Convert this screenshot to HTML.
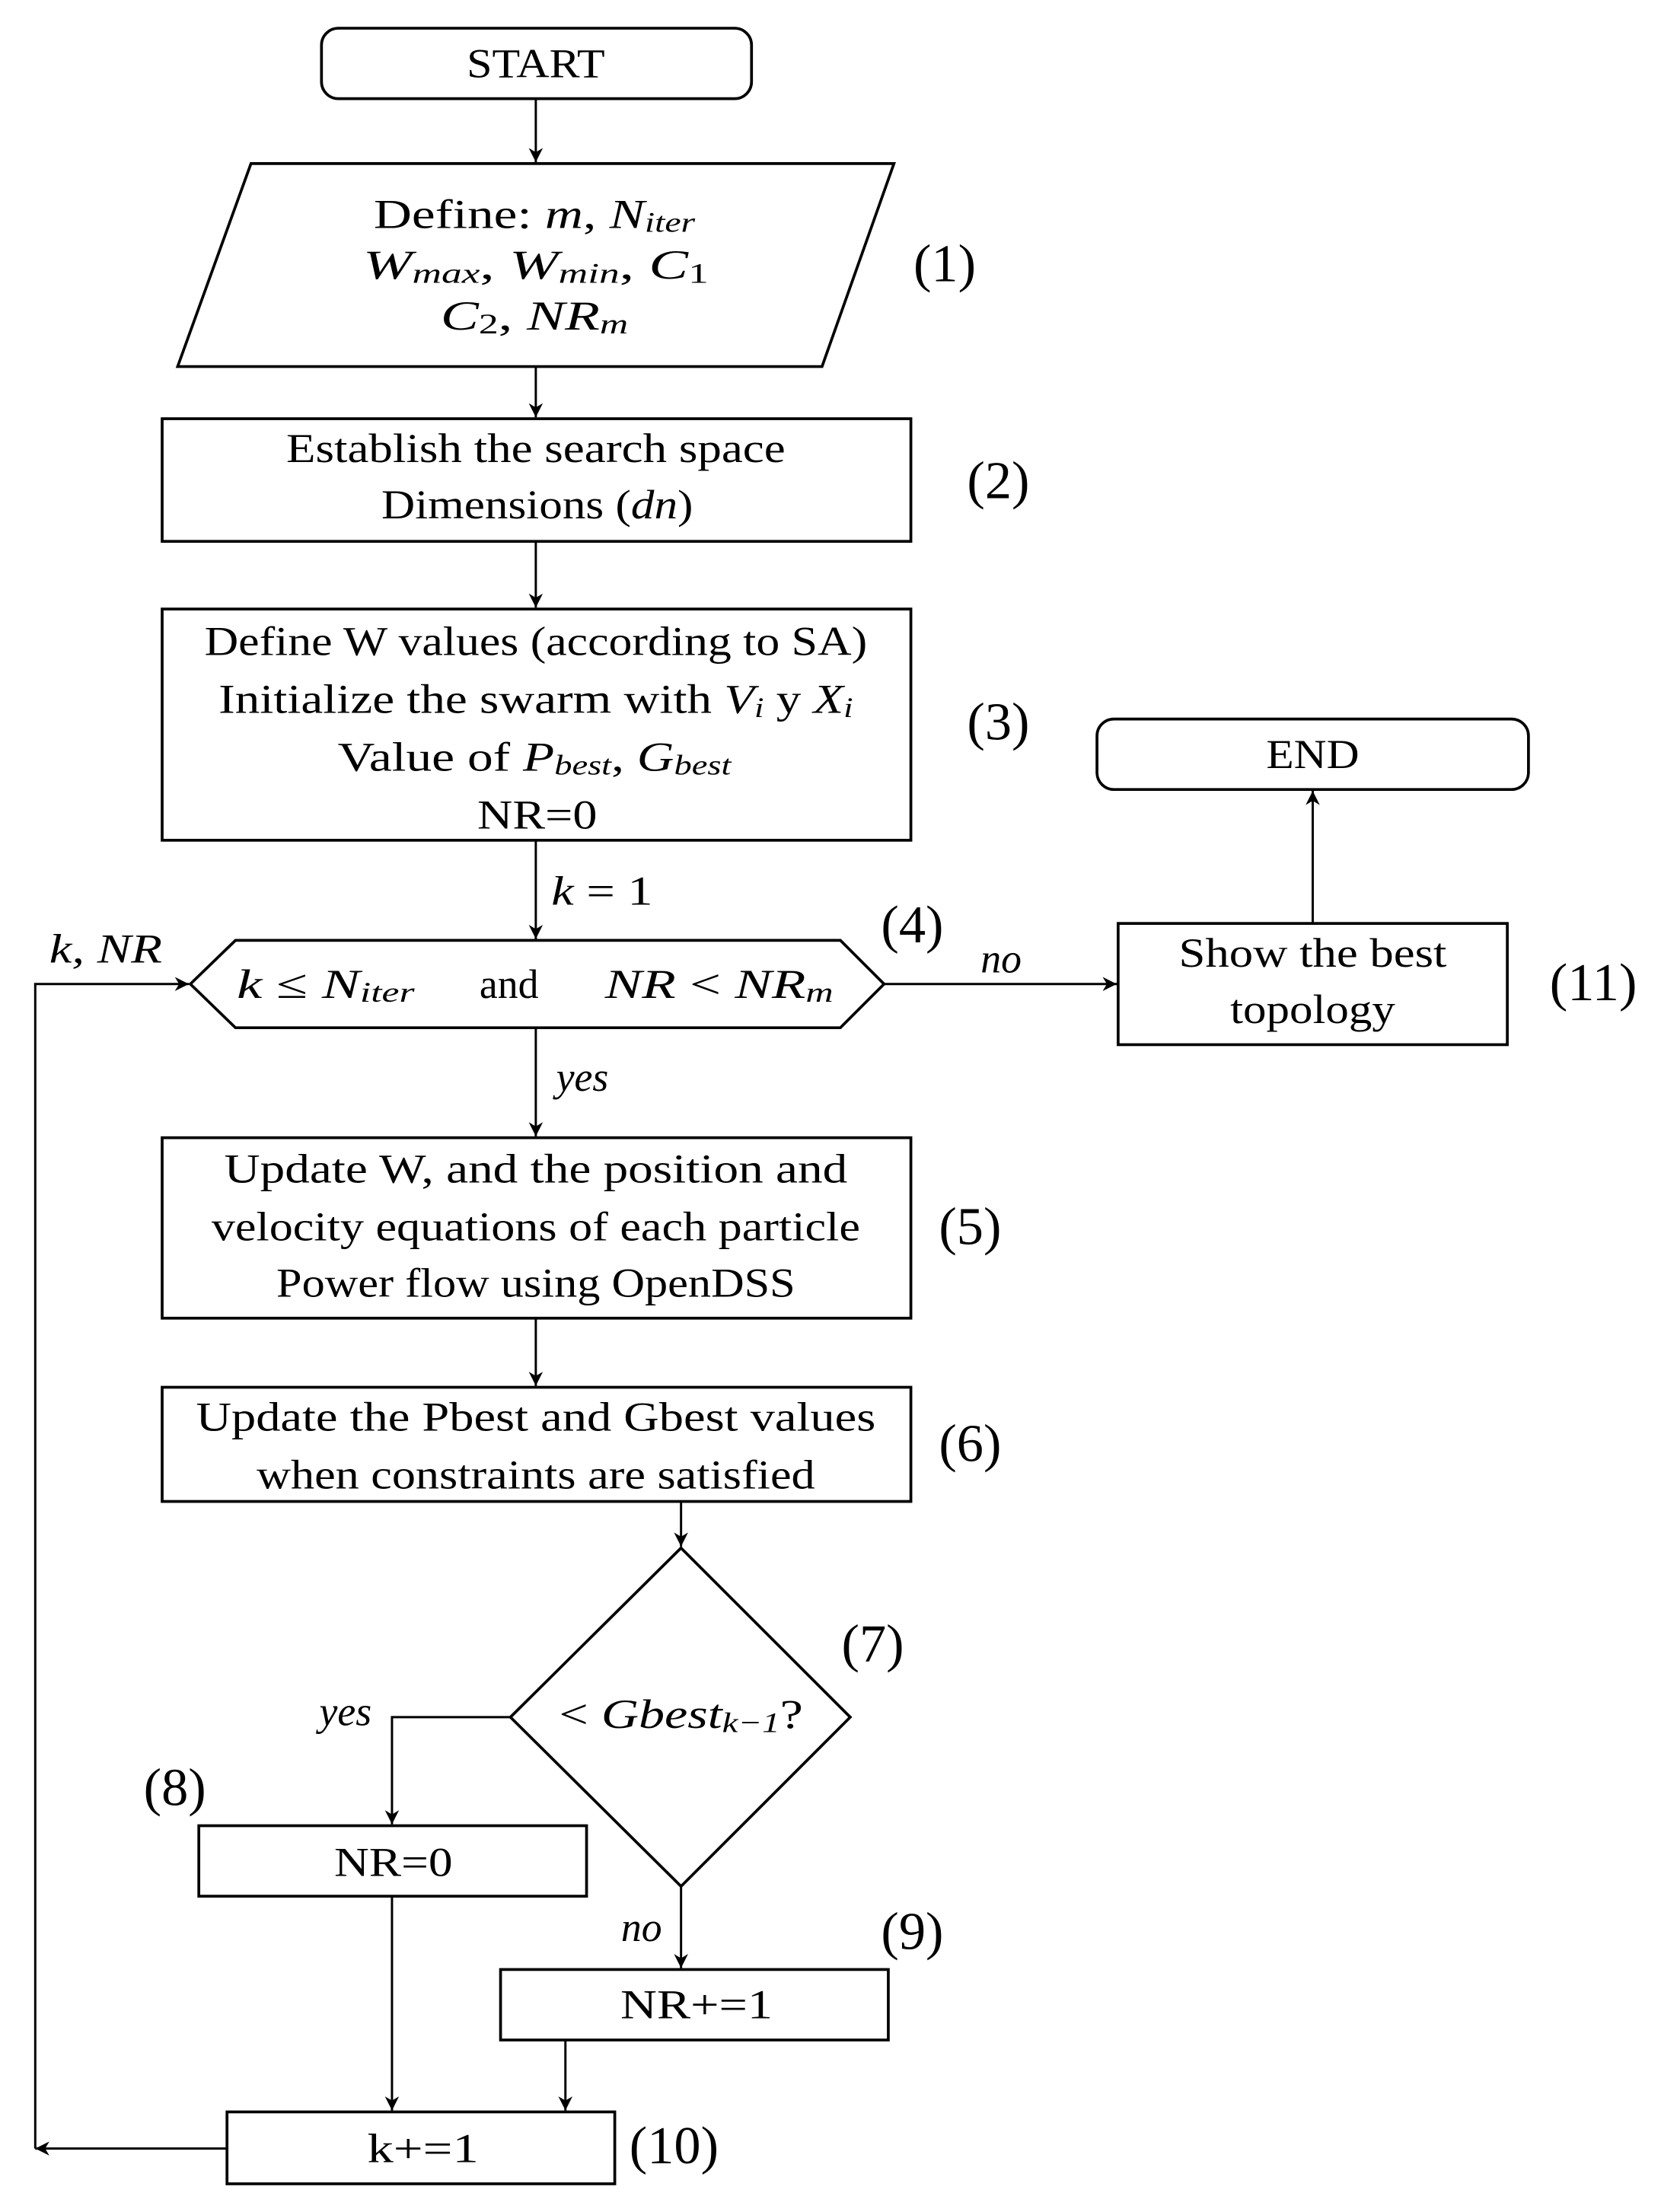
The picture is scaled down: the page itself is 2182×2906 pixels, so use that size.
<!DOCTYPE html>
<html><head><meta charset="utf-8"><style>
html,body{margin:0;padding:0;background:#fff;}
svg{display:block;}
text{font-family:"Liberation Serif",serif;fill:#000;}
.t{font-size:29px;text-anchor:middle;dominant-baseline:central;}
.n{font-size:38px;text-anchor:middle;dominant-baseline:central;}
.i{font-style:italic;}
</style></head><body>
<svg width="2182" height="2906" viewBox="0 0 1178 1569" preserveAspectRatio="none" xmlns="http://www.w3.org/2000/svg">
<defs><marker id="a" markerWidth="12" markerHeight="12" refX="10" refY="5" orient="auto" markerUnits="userSpaceOnUse"><path d="M0,0 L10,5 L0,10 L3,5 Z" fill="#000"/></marker></defs>
<g fill="none" stroke="#000" stroke-width="2">
<rect x="228" y="20" width="305" height="50" rx="12"/>
<polygon points="178,116 634,116 583,260 126,260"/>
<rect x="115" y="297" width="531" height="87"/>
<rect x="115" y="432" width="531" height="164"/>
<polygon points="135,698 167,667 596,667 627,698 596,729 167,729"/>
<rect x="793" y="655" width="276" height="86"/>
<rect x="778" y="510" width="306" height="50" rx="12"/>
<rect x="115" y="807" width="531" height="128"/>
<rect x="115" y="984" width="531" height="81"/>
<polygon points="483,1098 603,1218 483,1338 362,1218"/>
<rect x="141" y="1295" width="275" height="50"/>
<rect x="355" y="1397" width="275" height="50"/>
<rect x="161" y="1498" width="275" height="51"/>
</g>
<g fill="none" stroke="#000" stroke-width="1.6" marker-end="url(#a)">
<line x1="380" y1="70" x2="380" y2="115"/>
<line x1="380" y1="260" x2="380" y2="296"/>
<line x1="380" y1="384" x2="380" y2="431"/>
<line x1="380" y1="596" x2="380" y2="666"/>
<line x1="627" y1="698" x2="792" y2="698"/>
<line x1="931" y1="655" x2="931" y2="561"/>
<line x1="380" y1="729" x2="380" y2="806"/>
<line x1="380" y1="935" x2="380" y2="983"/>
<line x1="483" y1="1065" x2="483" y2="1097"/>
<polyline points="362,1218 278,1218 278,1294"/>
<line x1="483" y1="1338" x2="483" y2="1396"/>
<line x1="401" y1="1447" x2="401" y2="1497"/>
<line x1="278" y1="1345" x2="278" y2="1497"/>
<line x1="161" y1="1524" x2="25" y2="1524"/>
<polyline points="25,1524 25,698 134,698"/>
</g>
<text class="t" x="380" y="45" textLength="98" lengthAdjust="spacingAndGlyphs">START</text>
<text class="t" x="379" y="152" textLength="228" lengthAdjust="spacingAndGlyphs">Define: <tspan class="i">m</tspan>,  <tspan class="i">N</tspan><tspan class="i" font-size="20" dy="6">iter</tspan></text>
<text class="t" x="380" y="188" textLength="245" lengthAdjust="spacingAndGlyphs"><tspan class="i">W</tspan><tspan class="i" font-size="20" dy="6">max</tspan><tspan dy="-6">,  </tspan><tspan class="i">W</tspan><tspan class="i" font-size="20" dy="6">min</tspan><tspan dy="-6">,  </tspan><tspan class="i">C</tspan><tspan font-size="20" dy="6">1</tspan></text>
<text class="t" x="379" y="224" textLength="133" lengthAdjust="spacingAndGlyphs"><tspan class="i">C</tspan><tspan font-size="20" dy="6">2</tspan><tspan dy="-6">,  </tspan><tspan class="i">NR</tspan><tspan class="i" font-size="20" dy="6">m</tspan></text>
<text class="n" x="670" y="187">(1)</text>
<text class="t" x="380" y="318" textLength="354" lengthAdjust="spacingAndGlyphs">Establish the search space</text>
<text class="t" x="381" y="358" textLength="221" lengthAdjust="spacingAndGlyphs">Dimensions (<tspan class="i">dn</tspan>)</text>
<text class="n" x="708" y="341">(2)</text>
<text class="t" x="380" y="455" textLength="470" lengthAdjust="spacingAndGlyphs">Define W values (according to SA)</text>
<text class="t" x="380" y="496" textLength="450" lengthAdjust="spacingAndGlyphs">Initialize the swarm with <tspan class="i">V</tspan><tspan class="i" font-size="20" dy="6">i</tspan><tspan dy="-6"> y </tspan><tspan class="i">X</tspan><tspan class="i" font-size="20" dy="6">i</tspan></text>
<text class="t" x="379" y="537" textLength="279" lengthAdjust="spacingAndGlyphs">Value of <tspan class="i">P</tspan><tspan class="i" font-size="20" dy="6">best</tspan><tspan dy="-6">, </tspan><tspan class="i">G</tspan><tspan class="i" font-size="20" dy="6">best</tspan></text>
<text class="t" x="381" y="578" textLength="85" lengthAdjust="spacingAndGlyphs">NR=0</text>
<text class="n" x="708" y="512">(3)</text>
<text class="t" x="427" y="632" textLength="72" lengthAdjust="spacingAndGlyphs"><tspan class="i">k</tspan> = 1</text>
<text class="t" x="231" y="698" textLength="126" lengthAdjust="spacingAndGlyphs"><tspan class="i">k</tspan> ≤ <tspan class="i">N</tspan><tspan class="i" font-size="20" dy="6">iter</tspan></text>
<text class="t" x="361" y="698">and</text>
<text class="t" x="510" y="698" textLength="162" lengthAdjust="spacingAndGlyphs"><tspan class="i">NR</tspan> &lt; <tspan class="i">NR</tspan><tspan class="i" font-size="20" dy="6">m</tspan></text>
<text class="n" x="647" y="656">(4)</text>
<text class="t i" x="75" y="673" textLength="80" lengthAdjust="spacingAndGlyphs">k, NR</text>
<text class="t i" x="710" y="680">no</text>
<text class="t" x="931" y="676" textLength="190" lengthAdjust="spacingAndGlyphs">Show the best</text>
<text class="t" x="931" y="716" textLength="117" lengthAdjust="spacingAndGlyphs">topology</text>
<text class="n" x="1130" y="697">(11)</text>
<text class="t" x="931" y="535" textLength="66" lengthAdjust="spacingAndGlyphs">END</text>
<text class="t i" x="413" y="764">yes</text>
<text class="t" x="380" y="829" textLength="442" lengthAdjust="spacingAndGlyphs">Update W, and the position and</text>
<text class="t" x="380" y="870" textLength="460" lengthAdjust="spacingAndGlyphs">velocity equations of each particle</text>
<text class="t" x="380" y="910" textLength="368" lengthAdjust="spacingAndGlyphs">Power flow using OpenDSS</text>
<text class="n" x="688" y="870">(5)</text>
<text class="t" x="380" y="1005" textLength="482" lengthAdjust="spacingAndGlyphs">Update the Pbest and Gbest values</text>
<text class="t" x="380" y="1046" textLength="396" lengthAdjust="spacingAndGlyphs">when constraints are satisfied</text>
<text class="n" x="688" y="1024">(6)</text>
<text class="t" x="483" y="1216" textLength="173" lengthAdjust="spacingAndGlyphs">&lt; <tspan class="i">Gbest</tspan><tspan class="i" font-size="20" dy="6">k−1</tspan><tspan dy="-6">?</tspan></text>
<text class="n" x="619" y="1166">(7)</text>
<text class="t i" x="245" y="1214">yes</text>
<text class="n" x="124" y="1268">(8)</text>
<text class="t" x="279" y="1321" textLength="84" lengthAdjust="spacingAndGlyphs">NR=0</text>
<text class="t i" x="455" y="1367">no</text>
<text class="n" x="647" y="1370">(9)</text>
<text class="t" x="494" y="1422" textLength="108" lengthAdjust="spacingAndGlyphs">NR+=1</text>
<text class="t" x="300" y="1524" textLength="79" lengthAdjust="spacingAndGlyphs">k+=1</text>
<text class="n" x="478" y="1522">(10)</text>
</svg>
</body></html>
